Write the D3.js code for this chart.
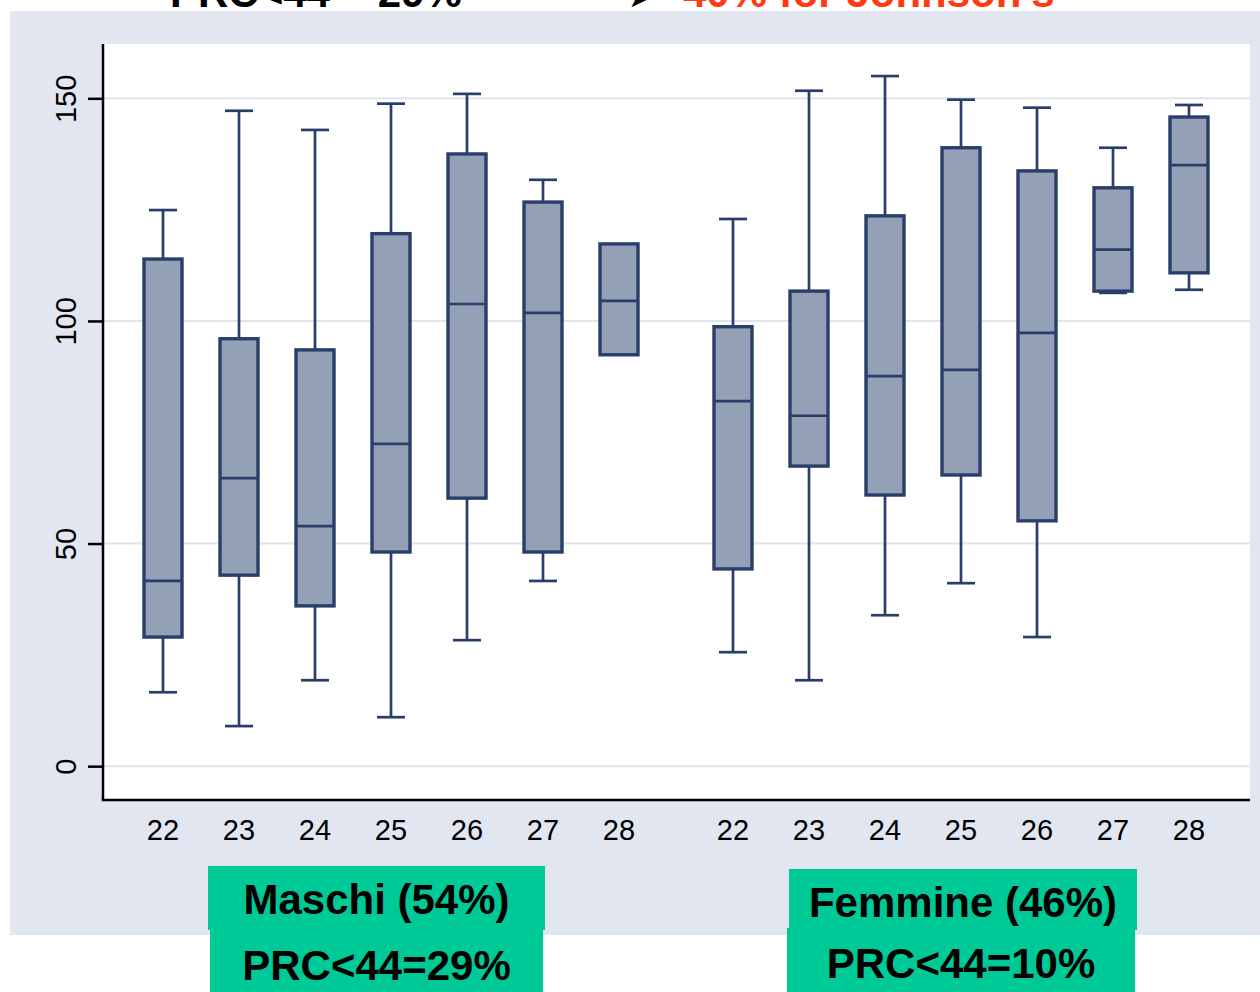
<!DOCTYPE html>
<html>
<head>
<meta charset="utf-8">
<script src="https://cdn.jsdelivr.net/npm/d3@7"></script>
<style>
  html, body { margin: 0; padding: 0; background: #ffffff; }
  svg { display: block; }
  text { font-family: "Liberation Sans", Arial, sans-serif; }
</style>
</head>
<body>
<svg id="chart" width="1260" height="992"></svg>
<script>
// Age groups (weeks) for each sex panel
const ages = [22, 23, 24, 25, 26, 27, 28];
const groups = ["Maschi", "Femmine"];

// Box statistics per age, per group
const maschiLow    = [16.6,   9.0, 19.3, 11.0, 28.3,  41.6,  92.4];
const maschiQ1     = [29.0,  42.9, 36.0, 48.1, 60.2,  48.1,  92.4];
const maschiMedian = [41.6,  64.7, 53.9, 72.4, 103.8, 101.8, 104.5];
const maschiQ3     = [113.9, 96.0, 93.5, 119.6, 137.5, 126.7, 117.3];
const maschiHigh   = [124.9, 147.2, 142.9, 148.8, 151.0, 131.7, 117.3];

const femmineLow    = [25.6,  19.3, 33.9, 41.1, 29.0,  106.3, 107.0];
const femmineQ1     = [44.3,  67.4, 60.9, 65.4, 55.1,  106.7, 110.8];
const femmineMedian = [82.0,  78.7, 87.6, 89.0, 97.3,  116.0, 135.0];
const femmineQ3     = [98.7, 106.7, 123.6, 138.9, 133.7, 129.9, 145.8];
const femmineHigh   = [122.9, 151.7, 155.0, 149.7, 147.9, 138.9, 148.5];

const yTicks = [0, 50, 100, 150];

const groupLabels = ["Maschi (54%)", "Femmine (46%)"];
const groupNotes  = ["PRC<44=29%", "PRC<44=10%"];

// Build one row per box
const stats = [
  { low: maschiLow, q1: maschiQ1, med: maschiMedian, q3: maschiQ3, high: maschiHigh },
  { low: femmineLow, q1: femmineQ1, med: femmineMedian, q3: femmineQ3, high: femmineHigh }
];
const boxes = [];
groups.forEach((g, gi) => {
  ages.forEach((a, i) => {
    const s = stats[gi];
    boxes.push({ group: g, age: a, slot: gi * 7.5 + i,
      low: s.low[i], q1: s.q1[i], med: s.med[i], q3: s.q3[i], high: s.high[i] });
  });
});

const svg = d3.select("#chart");

// Layout
const panel = { x: 10, y: 11, w: 1250, h: 924 };
const plot = { left: 103, right: 1250, top: 44, bottom: 800 };
const boxW = 38, capW = 28;
const navy = "#2a3e6c", fill = "#94a0b6", grid = "#dfe4ef";
const boxStroke = 3.4, lineStroke = 2.7;

// Heading lines partly outside the page top
svg.append("text").attr("x", 170).attr("y", 7)
  .attr("font-size", 42).attr("font-weight", "bold").attr("fill", "#000")
  .text("PRC<44 = 29%");
svg.append("text").attr("x", 628).attr("y", 7)
  .attr("font-size", 30).attr("fill", "#000").text("➤");
svg.append("text").attr("x", 683).attr("y", 7)
  .attr("font-size", 42).attr("font-weight", "bold").attr("fill", "#ff3a12")
  .text("40% for Johnson's");

// Grey-blue background panel
svg.append("rect").attr("x", panel.x).attr("y", panel.y)
  .attr("width", panel.w).attr("height", panel.h).attr("fill", "#e1e6f0");

// Plot region
svg.append("rect").attr("x", plot.left).attr("y", plot.top)
  .attr("width", plot.right - plot.left).attr("height", plot.bottom - plot.top)
  .attr("fill", "#ffffff");

const y = d3.scaleLinear().domain([-7.6, 162.2]).range([plot.bottom, plot.top]);
const x = d3.scaleLinear().domain([0, 13.5]).range([163, 1189]);

// Gridlines
svg.append("g").selectAll("line").data(yTicks).join("line")
  .attr("x1", plot.left).attr("x2", plot.right)
  .attr("y1", d => y(d)).attr("y2", d => y(d))
  .attr("stroke", grid).attr("stroke-width", 2);

// Boxes
const bx = svg.append("g");
const b = bx.selectAll("g").data(boxes).join("g");

// whiskers
b.append("line")
  .attr("x1", d => x(d.slot)).attr("x2", d => x(d.slot))
  .attr("y1", d => y(d.high)).attr("y2", d => y(d.q3))
  .attr("stroke", navy).attr("stroke-width", lineStroke);
b.append("line")
  .attr("x1", d => x(d.slot)).attr("x2", d => x(d.slot))
  .attr("y1", d => y(d.q1)).attr("y2", d => y(d.low))
  .attr("stroke", navy).attr("stroke-width", lineStroke);
// caps
b.filter(d => d.high > d.q3).append("line")
  .attr("x1", d => x(d.slot) - capW / 2).attr("x2", d => x(d.slot) + capW / 2)
  .attr("y1", d => y(d.high)).attr("y2", d => y(d.high))
  .attr("stroke", navy).attr("stroke-width", lineStroke);
b.filter(d => d.low < d.q1).append("line")
  .attr("x1", d => x(d.slot) - capW / 2).attr("x2", d => x(d.slot) + capW / 2)
  .attr("y1", d => y(d.low)).attr("y2", d => y(d.low))
  .attr("stroke", navy).attr("stroke-width", lineStroke);
// box body
b.append("rect")
  .attr("x", d => x(d.slot) - boxW / 2).attr("width", boxW)
  .attr("y", d => y(d.q3)).attr("height", d => y(d.q1) - y(d.q3))
  .attr("fill", fill).attr("stroke", navy).attr("stroke-width", boxStroke);
// median
b.append("line")
  .attr("x1", d => x(d.slot) - boxW / 2).attr("x2", d => x(d.slot) + boxW / 2)
  .attr("y1", d => y(d.med)).attr("y2", d => y(d.med))
  .attr("stroke", navy).attr("stroke-width", lineStroke);

// Y axis
const yAxis = svg.append("g").attr("transform", `translate(${plot.left},0)`)
  .call(d3.axisLeft(y).tickValues(yTicks).tickSize(15).tickPadding(0).tickFormat(d3.format("d")));
yAxis.select(".domain").attr("d", `M0,${plot.top}V${plot.bottom}`)
  .attr("stroke", "#000").attr("stroke-width", 2.5);
yAxis.selectAll(".tick line").attr("stroke", "#000").attr("stroke-width", 2.5);
yAxis.selectAll(".tick text")
  .attr("font-size", 29).attr("fill", "#000")
  .attr("text-anchor", "middle").attr("dy", null)
  .attr("x", null)
  .attr("transform", "translate(-27,0) rotate(-90)");

// X axis: baseline and age labels
svg.append("line").attr("x1", plot.left - 1.25).attr("x2", plot.right)
  .attr("y1", plot.bottom).attr("y2", plot.bottom)
  .attr("stroke", "#000").attr("stroke-width", 2.5);
svg.append("g").selectAll("text").data(boxes).join("text")
  .attr("x", d => x(d.slot)).attr("y", 840)
  .attr("text-anchor", "middle").attr("font-size", 29).attr("fill", "#000")
  .text(d => d.age);

// Group label boxes
const labelBoxes = [
  { top: [208, 866, 337, 64], bot: [210, 930, 333, 62] },
  { top: [789, 869, 348, 61], bot: [787, 928, 348, 64] }
];
labelBoxes.forEach((lb, i) => {
  svg.append("rect").attr("x", lb.top[0]).attr("y", lb.top[1])
    .attr("width", lb.top[2]).attr("height", lb.top[3]).attr("fill", "#00c998");
  svg.append("rect").attr("x", lb.bot[0]).attr("y", lb.bot[1])
    .attr("width", lb.bot[2]).attr("height", lb.bot[3]).attr("fill", "#00c998");
  svg.append("text").attr("x", lb.top[0] + lb.top[2] / 2).attr("y", lb.top[1] + 48)
    .attr("text-anchor", "middle").attr("font-size", 42).attr("font-weight", "bold")
    .attr("fill", "#000").text(groupLabels[i]);
  svg.append("text").attr("x", lb.bot[0] + lb.bot[2] / 2).attr("y", lb.bot[1] + 50)
    .attr("text-anchor", "middle").attr("font-size", 42).attr("font-weight", "bold")
    .attr("fill", "#000").text(groupNotes[i]);
});
</script>
</body>
</html>
